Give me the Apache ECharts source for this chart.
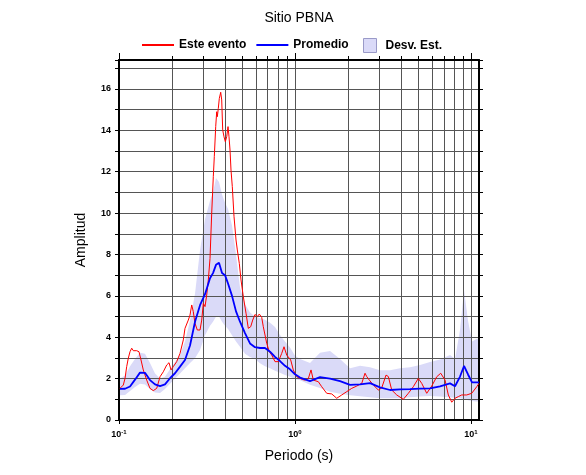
<!DOCTYPE html>
<html><head><meta charset="utf-8">
<script src="https://cdn.jsdelivr.net/npm/echarts@6/dist/echarts.min.js"></script>
<style>html,body{margin:0;padding:0;background:#fff}#c{width:586px;height:475px}</style>
</head><body><div id="c"></div>
<script>
const chartTitle = 'Sitio PBNA';
const xName = 'Periodo (s)';
const yName = 'Amplitud';
const xMajorTicks = [0.1, 1, 10];
const xMinorTicks = [0.1,0.2,0.3,0.4,0.5,0.6,0.7,0.8,0.9,1,2,3,4,5,6,7,8,9,10];
const yTickLabels = [0,2,4,6,8,10,12,14,16];

// Promedio and Desv. Est. band (period in s)
const bandT = [0.1013,0.1082,0.1155,0.1233,0.1316,0.1405,0.1500,0.1602,0.1710,0.1825,0.1949,0.2081,0.2222,0.2371,0.2532,0.2703,0.2886,0.3081,0.3289,0.3420,0.3557,0.3700,0.3848,0.4002,0.4163,0.4386,0.4622,0.4870,0.5199,0.5550,0.5925,0.6325,0.6752,0.7210,0.7697,0.8217,0.8772,0.9366,1.000,1.068,1.217,1.387,1.581,1.802,2.054,2.341,2.668,3.041,3.466,3.951,4.503,5.132,5.848,6.667,7.598,8.11,8.66,9.125,9.616,10.13,10.68,11.1];
const meanA = [1.50,1.51,1.62,1.95,2.29,2.28,1.93,1.72,1.64,1.72,2.02,2.26,2.58,2.90,3.60,4.75,5.55,6.08,6.85,7.10,7.50,7.60,7.10,7.00,6.60,6.00,5.25,4.75,4.20,3.70,3.52,3.48,3.48,3.30,3.05,2.85,2.62,2.45,2.21,2.05,1.88,2.07,2.00,1.88,1.70,1.72,1.78,1.58,1.45,1.48,1.49,1.52,1.53,1.63,1.77,1.63,2.10,2.61,2.20,1.82,1.82,1.82];
const bandUpper = [2.0,2.15,2.6,2.95,3.25,3.2,2.75,2.25,2.0,2.09,2.45,2.8,3.14,3.8,4.8,6.1,8.2,9.7,10.6,11.0,11.7,11.5,10.9,10.5,10.2,9.4,8.0,6.4,5.6,5.2,5.0,4.92,4.85,4.7,4.5,4.11,3.8,3.5,3.1,2.95,2.75,3.25,3.33,2.95,2.5,2.62,2.55,2.4,2.4,2.5,2.55,2.66,2.8,2.92,3.14,2.95,4.35,6.28,4.8,3.8,3.9,3.95];
const bandLower = [1.2,1.21,1.4,1.6,1.75,1.72,1.5,1.33,1.3,1.5,1.75,2.01,2.25,2.5,2.75,2.98,3.38,4.1,4.55,4.75,4.99,5.0,4.75,4.55,4.4,4.1,3.8,3.54,3.2,3.05,2.95,2.74,2.6,2.5,2.38,2.28,2.18,2.09,1.98,1.92,1.7,1.55,1.37,1.27,1.2,1.15,1.1,1.05,1.05,1.05,1.1,1.13,1.16,1.13,1.09,1.07,1.05,1.0,0.95,0.92,0.9,0.89];

// Este evento
const eventT = [0.1013,0.1058,0.1082,0.1106,0.1129,0.1155,0.1181,0.1206,0.1261,0.1299,0.1334,0.1374,0.1437,0.1500,0.1566,0.1638,0.1710,0.1785,0.1867,0.1924,0.1975,0.2035,0.2127,0.2222,0.2319,0.2371,0.2476,0.2532,0.2589,0.2643,0.2703,0.2785,0.2886,0.2951,0.3013,0.3081,0.3150,0.3217,0.3289,0.3363,0.3434,0.3479,0.3544,0.3590,0.3619,0.3666,0.3714,0.3783,0.3833,0.3883,0.3950,0.4018,0.4092,0.4163,0.4217,0.4273,0.4329,0.4403,0.4503,0.4622,0.4701,0.4825,0.4934,0.5085,0.5268,0.5428,0.5602,0.5750,0.5925,0.6107,0.6269,0.6469,0.6605,0.6906,0.7145,0.7373,0.7697,0.8038,0.8403,0.8660,0.8971,0.9161,0.9453,0.9780,1.023,1.068,1.106,1.140,1.166,1.190,1.233,1.271,1.357,1.418,1.514,1.617,1.726,1.843,1.967,2.100,2.242,2.394,2.499,2.555,2.644,2.786,2.974,3.109,3.289,3.390,3.544,3.784,4.125,4.404,4.701,5.019,5.247,5.602,5.981,6.385,6.728,7.118,7.432,7.770,8.112,8.470,8.855,9.454,10.09,10.78,11.10];
const eventA = [1.53,1.69,2.01,2.58,2.98,3.30,3.47,3.35,3.35,3.30,2.90,2.42,1.93,1.53,1.42,1.53,2.09,2.33,2.66,2.77,2.42,2.58,2.82,3.22,3.87,4.43,4.83,5.07,5.56,5.24,4.67,4.35,4.35,4.83,5.64,5.48,6.04,6.77,7.80,10.0,11.76,12.73,14.18,14.90,14.66,15.06,15.54,15.84,15.47,14.02,13.69,13.45,13.69,14.18,13.69,13.05,12.08,11.28,9.83,8.70,8.22,7.57,6.77,5.96,5.16,4.43,4.51,4.83,5.10,5.00,5.12,4.96,4.51,3.71,3.30,3.14,2.82,2.82,3.22,3.54,3.14,3.10,2.90,2.42,2.09,2.01,1.95,1.93,1.85,2.00,2.42,1.93,1.85,1.61,1.29,1.26,1.05,1.21,1.37,1.53,1.64,1.77,2.26,2.10,1.93,1.69,1.45,1.55,2.17,2.10,1.45,1.21,1.00,1.29,1.61,2.01,1.77,1.29,1.64,2.09,2.26,1.93,1.21,0.86,1.05,1.13,1.21,1.21,1.29,1.61,1.77];

const FONT = '"Liberation Sans", Arial, Helvetica, sans-serif';
const BAND = '#dadaf8';
const GRIDC = '#555';
const LINE_ICON = 'path://M0,0L32,0L32,2L0,2Z';

const chart = echarts.init(document.getElementById('c'));
const axisLineStyle = {color:'#000', width:2};
chart.setOption({
  animation:false,
  backgroundColor:'#fff',
  title:{text:chartTitle, left:299, top:11, textAlign:'center', padding:0,
    textStyle:{fontSize:14, fontWeight:'normal', color:'#000', fontFamily:FONT}},
  legend:[
    {left:142, top:39, padding:0, itemWidth:32, itemHeight:14, itemGap:10,
     data:[{name:'Este evento', icon:LINE_ICON, itemStyle:{color:'#ff0000'}},
           {name:'Promedio', icon:LINE_ICON, itemStyle:{color:'#0000ff'}}],
     textStyle:{fontSize:12, fontWeight:'bold', color:'#000', fontFamily:FONT}},
    {left:363, top:38, padding:0, itemWidth:13, itemHeight:14,
     data:[{name:'Desv. Est.', icon:'rect', itemStyle:{color:BAND, borderColor:'#9a9ac8', borderWidth:1}}],
     textStyle:{fontSize:12, fontWeight:'bold', color:'#000', fontFamily:FONT, padding:[0,0,0,4]}}
  ],
  grid:{left:119, right:107, top:60, bottom:55, containLabel:false},
  xAxis:[
    {type:'log', logBase:10, min:0.1, max:11.1, position:'bottom', z:3,
     name:xName, nameLocation:'middle', nameGap:29,
     nameTextStyle:{fontSize:14, color:'#000', fontFamily:FONT},
     axisLine:{show:true, onZero:false, lineStyle:axisLineStyle},
     axisTick:{show:true, inside:false, length:4, customValues:xMajorTicks, lineStyle:{color:'#000', width:1}},
     axisLabel:{show:true, customValues:xMajorTicks, margin:9,
       formatter:function(v){const e=Math.round(Math.log10(v)); return '{b|10}{s|'+e+'}';},
       rich:{b:{fontSize:9, fontWeight:'bold', color:'#000', fontFamily:FONT},
             s:{fontSize:6, fontWeight:'bold', color:'#000', fontFamily:FONT, padding:[0,0,6,0]}}},
     splitLine:{show:false}, minorTick:{show:false}, minorSplitLine:{show:false}},
    {type:'log', logBase:10, min:0.1, max:11.1, position:'top', z:3,
     axisLine:{show:true, onZero:false, lineStyle:axisLineStyle},
     axisTick:{show:true, inside:false, length:4, customValues:xMinorTicks, lineStyle:{color:'#000', width:1}},
     axisLabel:{show:false},
     splitLine:{show:true, lineStyle:{color:GRIDC, width:1}}},
    {type:'log', logBase:10, min:0.1, max:11.1, position:'top', z:3,
     axisLine:{show:false, onZero:false},
     axisTick:{show:true, inside:false, length:7, customValues:xMajorTicks, lineStyle:{color:'#000', width:1}},
     axisLabel:{show:false}, splitLine:{show:false}}
  ],
  yAxis:[
    {type:'value', min:0, max:17.4, interval:1, position:'left', z:3,
     name:yName, nameLocation:'middle', nameGap:31, nameRotate:90,
     nameTextStyle:{fontSize:14, color:'#000', fontFamily:FONT},
     axisLine:{show:true, onZero:false, lineStyle:axisLineStyle},
     axisTick:{show:true, inside:false, length:4, lineStyle:{color:'#000', width:1}},
     axisLabel:{margin:8, fontSize:9, fontWeight:'bold', color:'#000', fontFamily:FONT,
       formatter:function(v){return yTickLabels.indexOf(v)>=0 ? String(v) : '';}},
     splitLine:{show:true, lineStyle:{color:GRIDC, width:1}}},
    {type:'value', min:0, max:17.4, interval:1, position:'right', z:3,
     axisLine:{show:true, onZero:false, lineStyle:axisLineStyle},
     axisTick:{show:true, inside:false, length:4, lineStyle:{color:'#000', width:1}},
     axisLabel:{show:false}, splitLine:{show:false}}
  ],
  series:[
    {name:'Desv. Est.', type:'custom', xAxisIndex:0, yAxisIndex:0, z:1, silent:true, clip:true,
     itemStyle:{color:BAND},
     data: bandT.map((t,i)=>[t, bandUpper[i], bandLower[i]]),
     encode:{x:0, y:[1,2]},
     renderItem:function(params, api){
       if (params.dataIndex !== 0) return null;
       const pts = [];
       for (let i=0;i<bandT.length;i++) pts.push(api.coord([bandT[i], bandUpper[i]]));
       for (let i=bandT.length-1;i>=0;i--) pts.push(api.coord([bandT[i], bandLower[i]]));
       return {type:'polygon', shape:{points:pts}, style:{fill:BAND}};
     }},
    {name:'Este evento', type:'line', xAxisIndex:0, yAxisIndex:0, z:5, symbol:'none', showSymbol:false,
     data: eventT.map((t,i)=>[t, eventA[i]]),
     lineStyle:{color:'#ff0000', width:1}, itemStyle:{color:'#ff0000'}},
    {name:'Promedio', type:'line', xAxisIndex:0, yAxisIndex:0, z:6, symbol:'none', showSymbol:false,
     data: bandT.map((t,i)=>[t, meanA[i]]),
     lineStyle:{color:'#0000ff', width:1.8}, itemStyle:{color:'#0000ff'}}
  ]
});
</script></body></html>
